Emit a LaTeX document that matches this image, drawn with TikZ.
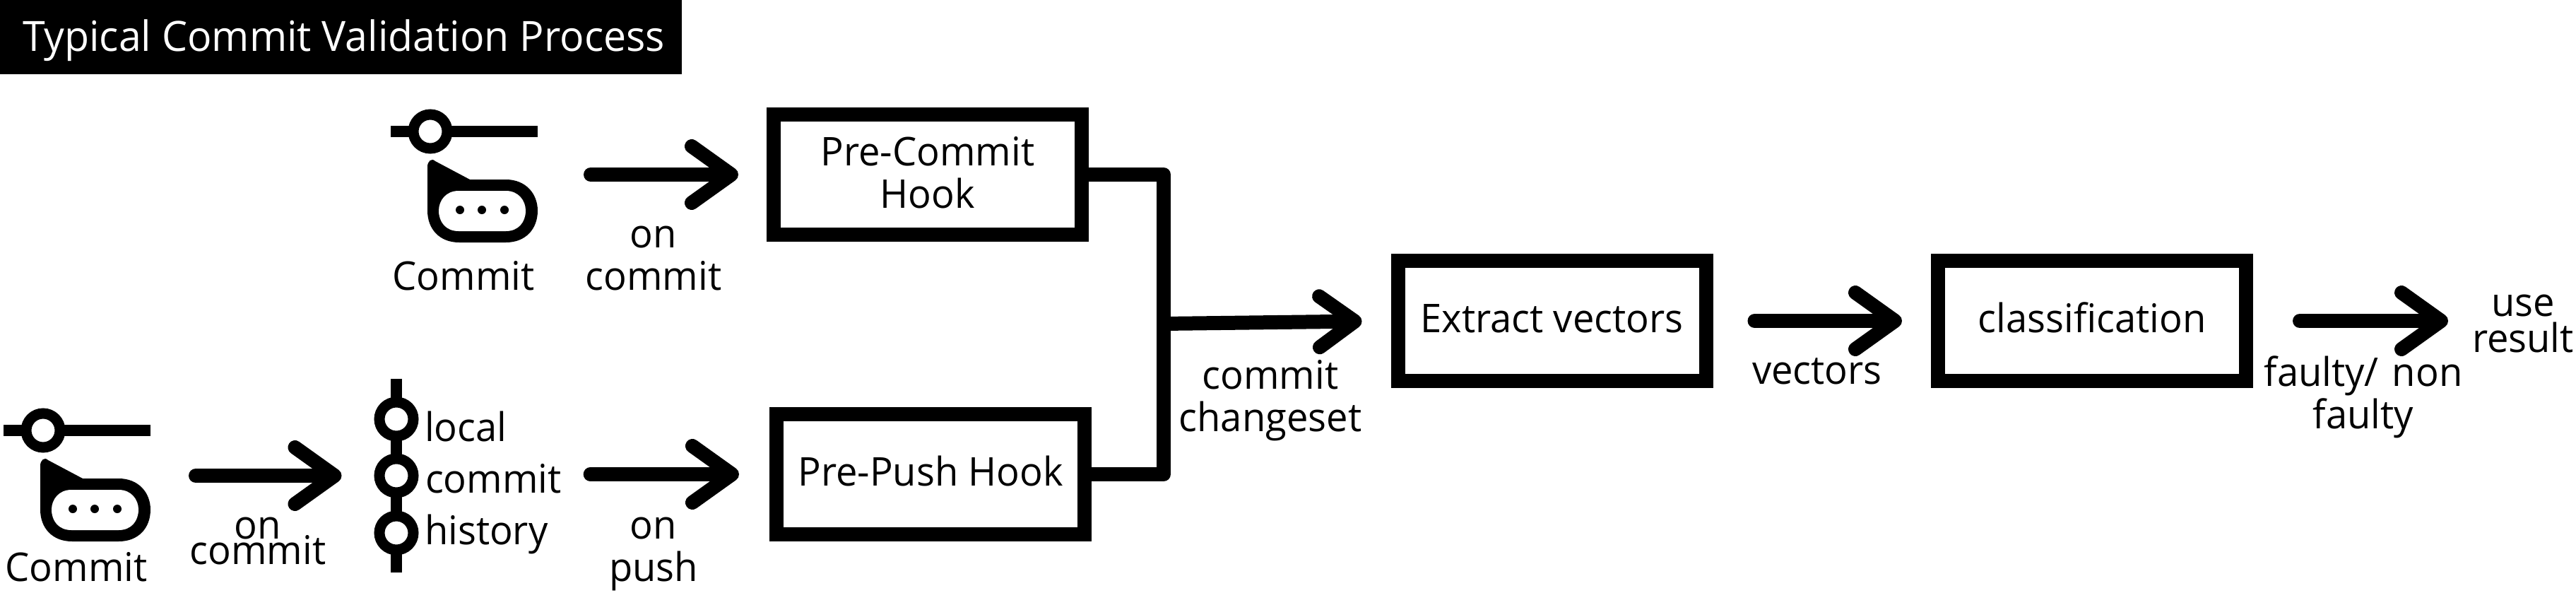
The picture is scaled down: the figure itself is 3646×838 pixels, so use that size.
\documentclass[tikz,border=0pt]{standalone}
\usepackage{fontspec}
\setmainfont[FakeStretch=0.97]{Open Sans}
\usetikzlibrary{arrows.meta,calc}
\tikzset{
  x=1pt,y=-1pt,
  lbl/.style={inner sep=0pt,outer sep=0pt,anchor=base,align=center,font=\fontsize{56}{60}\selectfont},
  box/.style={draw,line width=20pt,fill=white,minimum width=436pt,minimum height=170pt,inner sep=0pt,align=center,font=\fontsize{56}{60}\selectfont},
  oneline/.style={text height=44pt,text depth=12pt},
  conn/.style={line width=20pt,line cap=round,-{Straight Barb[length=56pt,width=80pt,round]}},
  ring/.style={circle,draw,line width=15pt,fill=white,minimum size=48pt,inner sep=0pt},
  gitcommit/.pic={
    \fill (-56,-8) rectangle (152,8);
    \node[ring] (ring) at (0,0) {};
    \fill (-4,50) .. controls (-4,42) and (2,37) .. (7,42) -- (56,68) -- (107,68)
      .. controls (135,68) and (152,88) .. (152,112)
      .. controls (152,138) and (135,157) .. (107,157) -- (41,157)
      .. controls (13,157) and (-4,138) .. (-4,112) -- cycle;
    \fill[white] (40,84) -- (107,84) .. controls (125,84) and (135,98) .. (135,112)
      .. controls (135,128) and (125,141) .. (107,141) -- (40,141)
      .. controls (22,141) and (12,128) .. (12,112)
      .. controls (12,98) and (22,84) .. (40,84) -- cycle;
    \foreach \dx in {42,73,105} \fill[black] (\dx,111) circle[radius=6pt];
  }
}
\begin{document}
\begin{tikzpicture}
\useasboundingbox (0,0) rectangle (3646,838);
% title
\fill[black] (0,0) rectangle (965,105);
\node[lbl,anchor=base west,text=white,font=\fontsize{59}{60}\selectfont] (title) at (32,72) {Typical Commit Validation Process};
% icons
\pic (ia) at (609,186) {gitcommit};
\pic (ib) at (61,609) {gitcommit};
\node[lbl] (ca) at (656,410) {Commit};
\node[lbl] (cb) at (108,822) {Commit};
% history
\fill (553,536) rectangle (569,810);
\node[ring] (ra) at (561,593) {};
\node[ring] (rb) at (561,673) {};
\node[ring] (rc) at (561,754) {};
\node[lbl,anchor=base west] (hl) at (601,624) {local};
\node[lbl,anchor=base west] (hc) at (602,697) {commit};
\node[lbl,anchor=base west] (hh) at (601,770) {history};
% boxes
\node[box,text depth=6pt] (pc) at (1313,247) {Pre-Commit\\Hook};
\node[box,oneline] (pp) at (1317,671) {Pre-Push Hook};
\node[box,oneline] (ex) at (2196.5,454) {Extract vectors};
\node[box,oneline] (cl) at (2961,454) {classification};
% labels
\node[lbl] (l1) at (925,410) {on\\commit};
\node[lbl] (l2) at (365,798) {on\\[-24pt]commit};
\node[lbl] (l3) at (925,822) {on\\push};
\node[lbl] (l4) at (1798,610) {commit\\changeset};
\node[lbl] (l5) at (2572,543) {vectors};
\node[lbl] (l6) at (3345,606) {faulty/\hspace{5pt} non\\faulty};
\node[lbl] (res) at (3571,498) {use\\[-9pt]result};
% connectors
\coordinate (sa) at (836,247);
\coordinate (sb) at (277,673);
\coordinate (bus) at (1647,458);
\draw[conn,shorten >=40pt] (sa) -- (pc.west);
\draw[conn,shorten >=46pt] (sb) -- (rb.west);
\draw[conn,shorten <=41pt,shorten >=43pt] (hc.east |- pp.west) -- (pp.west);
\draw[line width=20pt,line join=round] (pc.east) -| (bus) -- (bus |- pp.east) -- (pp.east);
\draw[conn,line cap=butt,shorten >=41pt,-{Straight Barb[length=50pt,width=72pt,round]}] (bus) -- (ex.west);
\draw[conn,shorten <=59pt,shorten >=41pt] (ex.east) -- (cl.west);
\draw[conn,shorten <=66pt] (cl.east) -- (3465,454);
\end{tikzpicture}
\end{document}
